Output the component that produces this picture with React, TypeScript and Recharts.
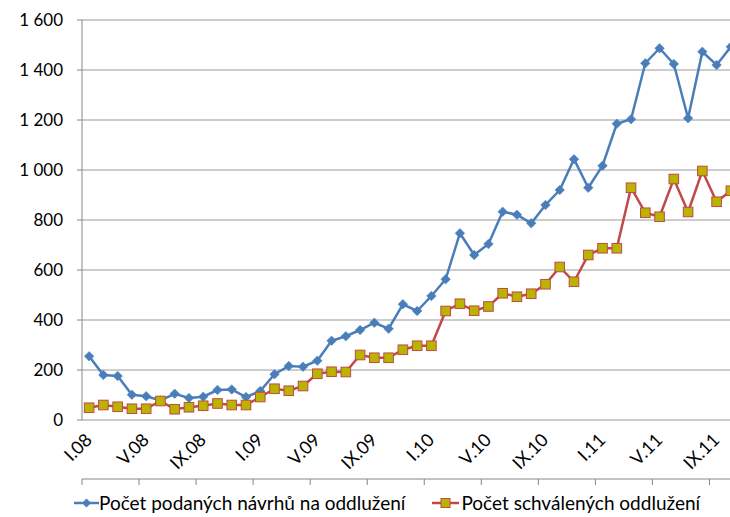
import React from "react";
import { LineChart, Line, XAxis, YAxis, CartesianGrid, Legend } from "recharts";

const months = ["I", "II", "III", "IV", "V", "VI", "VII", "VIII", "IX", "X", "XI", "XII"];
const years = ["08", "09", "10", "11"];
const categories: string[] = [];
years.forEach((y) => months.forEach((m) => categories.push(m + "." + y)));

const podane = [
  255, 180, 176, 101, 95, 78, 105, 88, 93, 120, 122, 92,
  116, 183, 216, 213, 237, 317, 335, 360, 389, 365, 463, 436,
  496, 563, 747, 660, 704, 833, 821, 787, 860, 920, 1043, 929,
  1017, 1185, 1203, 1427, 1487, 1424, 1207, 1473, 1420, 1493,
];
const schvalene = [
  49, 60, 53, 45, 45, 76, 43, 51, 57, 66, 60, 60,
  92, 125, 117, 136, 185, 193, 192, 260, 249, 249, 281, 297,
  297, 436, 465, 437, 454, 507, 493, 505, 543, 612, 553, 660,
  687, 687, 929, 829, 813, 964, 832, 996, 873, 917,
];
const yTicks = [0, 200, 400, 600, 800, 1000, 1200, 1400, 1600];
const labelTicks = [0, 4, 8, 12, 16, 20, 24, 28, 32, 36, 40, 44];
const boundaryTicks = [-0.5, 3.5, 7.5, 11.5, 15.5, 19.5, 23.5, 27.5, 31.5, 35.5, 39.5, 43.5];
const seriesNames = ["Počet podaných návrhů na oddlužení", "Počet schválených oddlužení"];

const data = podane.map((v, i) => ({ i, name: categories[i], podane: v, schvalene: schvalene[i] }));

const BLUE = "#4A7EBB";
const RED = "#BE4B48";
const OLIVE = "#BAB300";
const FONT = "Lato, 'Open Sans', sans-serif";

const Diamond = (p: any) => {
  const { cx, cy } = p;
  if (cx == null || cy == null) return <g key={p.key} />;
  const r = 4.8;
  return (
    <polygon
      key={p.key}
      points={`${cx},${cy - r} ${cx + r},${cy} ${cx},${cy + r} ${cx - r},${cy}`}
      fill={BLUE}
      stroke={BLUE}
      strokeWidth={0.5}
    />
  );
};

const Square = (p: any) => {
  const { cx, cy } = p;
  if (cx == null || cy == null) return <g key={p.key} />;
  const r = 4.8;
  return (
    <rect key={p.key} x={cx - r} y={cy - r} width={2 * r} height={2 * r} fill={OLIVE} stroke={RED} strokeWidth={1} />
  );
};

const EmptyTick = () => <g />;

function RotTick(p: any) {
  const { x, y, payload } = p;
  const ax = Number(x) + 4;
  const ay = Number(y) + 13;
  return (
    <g transform={`translate(${ax}, ${ay}) rotate(-45)`}>
      <text x={0} y={0} textAnchor="end" fontFamily={FONT} fontSize={18} fill="#000">
        {categories[payload.value]}
      </text>
    </g>
  );
}

const fmt = (v: number) => (v >= 1000 ? `${Math.floor(v / 1000)} ${String(v % 1000).padStart(3, "0")}` : String(v));

const LegendContent = () => (
  <div
    style={{
      height: 37,
      display: "flex",
      alignItems: "center",
      paddingLeft: 74,
      boxSizing: "border-box",
      paddingTop: 8,
      fontFamily: FONT,
      fontSize: 19,
      color: "#000",
    }}
  >
    <svg width={25} height={12} style={{ marginRight: 0 }}>
      <line x1={0} y1={6} x2={25} y2={6} stroke={BLUE} strokeWidth={2.5} />
      <polygon points="12.5,1.5 17,6 12.5,10.5 8,6" fill={BLUE} />
    </svg>
    <span>{seriesNames[0]}</span>
    <svg width={27} height={12} style={{ marginLeft: 27, marginRight: 2 }}>
      <line x1={0} y1={6} x2={27} y2={6} stroke={RED} strokeWidth={2.5} />
      <rect x={9} y={1.5} width={9} height={9} fill={OLIVE} stroke={RED} strokeWidth={1} />
    </svg>
    <span>{seriesNames[1]}</span>
  </div>
);

export default function App() {
  return (
    <div style={{ position: "absolute", left: 0, top: 0, width: 730, height: 517, overflow: "hidden", background: "#fff" }}>
      <LineChart width={740} height={517} data={data} margin={{ top: 20, right: 2, bottom: 0, left: 0 }}>
        <CartesianGrid horizontal vertical={false} stroke="#9a9a9a" strokeWidth={1} />
        <XAxis
          xAxisId="tk"
          dataKey="i"
          type="number"
          domain={[-0.5, 45.5]}
          ticks={boundaryTicks}
          tick={EmptyTick}
          tickSize={6}
          height={1}
          stroke="#868686"
          interval={0}
          allowDataOverflow
        />
        <XAxis
          xAxisId="lbl"
          dataKey="i"
          type="number"
          domain={[-0.5, 45.5]}
          ticks={labelTicks}
          axisLine={false}
          tickLine={false}
          height={59}
          tick={RotTick}
          interval={0}
          allowDataOverflow
        />
        <YAxis
          domain={[0, 1600]}
          ticks={yTicks}
          tickFormatter={fmt}
          width={82}
          stroke="#868686"
          tickSize={5}
          tickMargin={14}
          tick={{ fontFamily: FONT, fontSize: 17, fill: "#000" }}
          interval={0}
        />
        <Legend verticalAlign="bottom" height={37} content={LegendContent} />
        <Line
          xAxisId="tk"
          dataKey="podane"
          name={seriesNames[0]}
          stroke={BLUE}
          strokeWidth={2.5}
          dot={Diamond}
          activeDot={false}
          isAnimationActive={false}
        />
        <Line
          xAxisId="tk"
          dataKey="schvalene"
          name={seriesNames[1]}
          stroke={RED}
          strokeWidth={2.5}
          dot={Square}
          activeDot={false}
          isAnimationActive={false}
        />
      </LineChart>
    </div>
  );
}
